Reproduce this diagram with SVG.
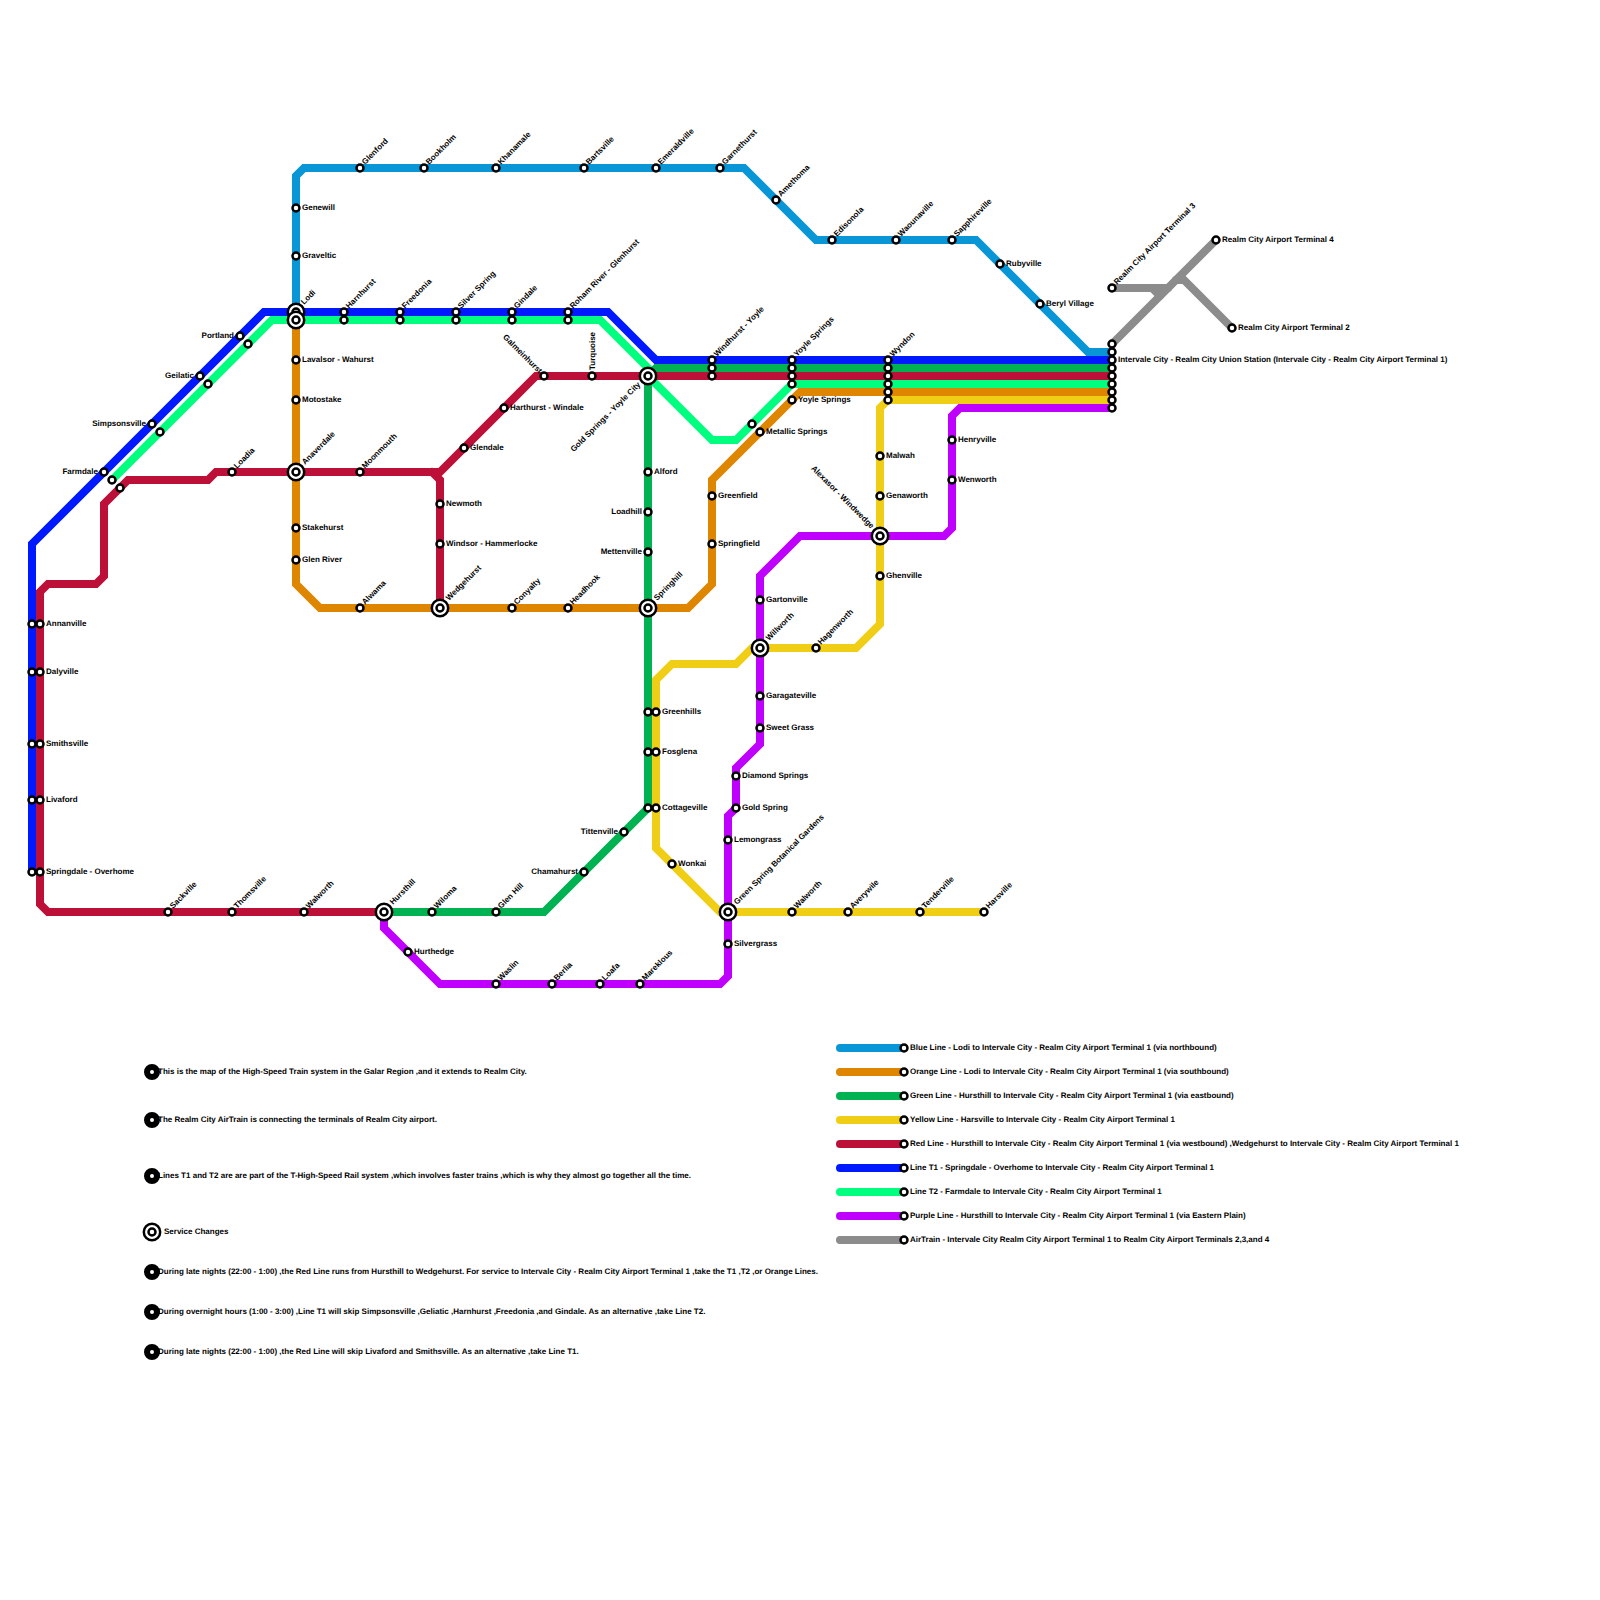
<svg xmlns="http://www.w3.org/2000/svg" xmlns:xlink="http://www.w3.org/1999/xlink" width="1600" height="1600" viewBox="0 0 1600 1600">
<style>
text{font-family:"Liberation Sans",Arial,sans-serif;font-weight:700;font-size:8px;fill:#000;text-rendering:geometricPrecision}
.e{text-anchor:end}
.ln{fill:none;stroke-width:8;stroke-linecap:round;stroke-linejoin:miter}
.blue{stroke:#0896d7}.orange{stroke:#df8600}.green{stroke:#00b251}.yellow{stroke:#f0ce15}.red{stroke:#bd1038}.t1{stroke:#0019ff}.t2{stroke:#00ff7f}.purple{stroke:#bf00ff}.air{stroke:#8c8c8c}
.s{fill:#fff;stroke:#000;stroke-width:2.5}
.bullet{fill:#fff;stroke:#000;stroke-width:6}
</style>
<defs>
<circle id="s" class="s" r="3.5"/>
<g id="x"><circle class="s" r="8.2"/><circle class="s" r="3.5"/></g>
</defs>
<rect width="1600" height="1600" fill="#fff"/>
<g id="connectors">
<path class="ln blue" d="M296 312V176L304 168H744L816 240H976L1088 352H1112"/>
<path class="ln orange" d="M296 320V584L320 608H688L712 584V480L800 392H1112"/>
<path class="ln green" d="M384 912H544L648 808V376L656 368H1112"/>
<path class="ln yellow" d="M984 912H720L656 848V680L672 664H736L752 648H856L880 624V408L888 400H1112"/>
<path class="ln t2" d="M112 480L272 320H600L648 368V376L712 440H736L792 384H1112"/>
<path class="ln red" d="M384 912H48L40 904V592L48 584H96L104 576V504L128 480H208L216 472H440L536 376H1112"/>
<path class="ln red" d="M440 608V480L432 472"/>
<path class="ln t1" d="M32 872V544L264 312H608L656 360H1112"/>
<path class="ln purple" d="M384 912V928L440 984H720L728 976V816L736 808V768L760 744V576L800 536H944L952 528V416L960 408H1112"/>
<path class="ln air" d="M1112 344L1216 240"/>
<path class="ln air" d="M1112 288H1168"/>
<path class="ln air" d="M1112 288H1152L1160 296"/>
<path class="ln air" d="M1176 280H1184L1232 328"/>
</g>
<g id="legend-lines">
<path class="ln blue" d="M840 1048H904"/>
<path class="ln orange" d="M840 1072H904"/>
<path class="ln green" d="M840 1096H904"/>
<path class="ln yellow" d="M840 1120H904"/>
<path class="ln red" d="M840 1144H904"/>
<path class="ln t1" d="M840 1168H904"/>
<path class="ln t2" d="M840 1192H904"/>
<path class="ln purple" d="M840 1216H904"/>
<path class="ln air" d="M840 1240H904"/>
</g>
<g id="n-genewill" transform="translate(296 208)"><use href="#s"/><text x="6" y="2">Genewill</text></g>
<g id="n-graveltic" transform="translate(296 256)"><use href="#s"/><text x="6" y="2">Graveltic</text></g>
<g id="n-lodi" transform="translate(296 312)"><use href="#x"/><text transform="translate(8 -7) rotate(-45)">Lodi</text></g>
<g id="n-lodi-2" transform="translate(296 320)"><use href="#x"/></g>
<g id="n-glenford" transform="translate(360 168)"><use href="#s"/><text transform="translate(5 -3) rotate(-45)">Glenford</text></g>
<g id="n-bookholm" transform="translate(424 168)"><use href="#s"/><text transform="translate(5 -3) rotate(-45)">Bookholm</text></g>
<g id="n-khanamale" transform="translate(496 168)"><use href="#s"/><text transform="translate(5 -3) rotate(-45)">Khanamale</text></g>
<g id="n-bartsville" transform="translate(584 168)"><use href="#s"/><text transform="translate(5 -3) rotate(-45)">Bartsville</text></g>
<g id="n-emeraldville" transform="translate(656 168)"><use href="#s"/><text transform="translate(5 -3) rotate(-45)">Emeraldville</text></g>
<g id="n-garnethurst" transform="translate(720 168)"><use href="#s"/><text transform="translate(5 -3) rotate(-45)">Garnethurst</text></g>
<g id="n-amethoma" transform="translate(776 200)"><use href="#s"/><text transform="translate(5 -3) rotate(-45)">Amethoma</text></g>
<g id="n-edisonola" transform="translate(832 240)"><use href="#s"/><text transform="translate(5 -3) rotate(-45)">Edisonola</text></g>
<g id="n-waounaville" transform="translate(896 240)"><use href="#s"/><text transform="translate(5 -3) rotate(-45)">Waounaville</text></g>
<g id="n-sapphireville" transform="translate(952 240)"><use href="#s"/><text transform="translate(5 -3) rotate(-45)">Sapphireville</text></g>
<g id="n-rubyville" transform="translate(1000 264)"><use href="#s"/><text x="6" y="2">Rubyville</text></g>
<g id="n-beryl-village" transform="translate(1040 304)"><use href="#s"/><text x="6" y="2">Beryl Village</text></g>
<g id="n-intervale-city"><use href="#s" x="1112" y="344"/><use href="#s" x="1112" y="352"/><use href="#s" x="1112" y="360"/><use href="#s" x="1112" y="368"/><use href="#s" x="1112" y="376"/><use href="#s" x="1112" y="384"/><use href="#s" x="1112" y="392"/><use href="#s" x="1112" y="400"/><use href="#s" x="1112" y="408"/><text x="1118" y="362">Intervale City - Realm City Union Station (Intervale City - Realm City Airport Terminal 1)</text></g>
<g id="n-terminal-3" transform="translate(1112 288)"><use href="#s"/><text transform="translate(5 -3) rotate(-45)">Realm City Airport Terminal 3</text></g>
<g id="n-terminal-4" transform="translate(1216 240)"><use href="#s"/><text x="6" y="2">Realm City Airport Terminal 4</text></g>
<g id="n-terminal-2" transform="translate(1232 328)"><use href="#s"/><text x="6" y="2">Realm City Airport Terminal 2</text></g>
<g id="n-harnhurst"><use href="#s" x="344" y="312"/><use href="#s" x="344" y="320"/><text transform="translate(349 309) rotate(-45)">Harnhurst</text></g>
<g id="n-freedonia"><use href="#s" x="400" y="312"/><use href="#s" x="400" y="320"/><text transform="translate(405 309) rotate(-45)">Freedonia</text></g>
<g id="n-silver-spring"><use href="#s" x="456" y="312"/><use href="#s" x="456" y="320"/><text transform="translate(461 309) rotate(-45)">Silver Spring</text></g>
<g id="n-gindale"><use href="#s" x="512" y="312"/><use href="#s" x="512" y="320"/><text transform="translate(517 309) rotate(-45)">Gindale</text></g>
<g id="n-roham-river"><use href="#s" x="568" y="312"/><use href="#s" x="568" y="320"/><text transform="translate(573 309) rotate(-45)">Roham River - Glenhurst</text></g>
<g id="n-portland"><use href="#s" x="240" y="336"/><use href="#s" x="248" y="344"/><text class="e" x="234" y="338">Portland</text></g>
<g id="n-geilatic"><use href="#s" x="200" y="376"/><use href="#s" x="208" y="384"/><text class="e" x="194" y="378">Geilatic</text></g>
<g id="n-simpsonsville"><use href="#s" x="152" y="424"/><use href="#s" x="160" y="432"/><text class="e" x="146" y="426">Simpsonsville</text></g>
<g id="n-farmdale"><use href="#s" x="104" y="472"/><use href="#s" x="112" y="480"/><text class="e" x="98" y="474">Farmdale</text></g>
<g id="n-red-488" transform="translate(120 488)"><use href="#s"/></g>
<g id="n-annanville"><use href="#s" x="32" y="624"/><use href="#s" x="40" y="624"/><text x="46" y="626">Annanville</text></g>
<g id="n-dalyville"><use href="#s" x="32" y="672"/><use href="#s" x="40" y="672"/><text x="46" y="674">Dalyville</text></g>
<g id="n-smithsville"><use href="#s" x="32" y="744"/><use href="#s" x="40" y="744"/><text x="46" y="746">Smithsville</text></g>
<g id="n-livaford"><use href="#s" x="32" y="800"/><use href="#s" x="40" y="800"/><text x="46" y="802">Livaford</text></g>
<g id="n-springdale"><use href="#s" x="32" y="872"/><use href="#s" x="40" y="872"/><text x="46" y="874">Springdale - Overhome</text></g>
<g id="n-lavalsor" transform="translate(296 360)"><use href="#s"/><text x="6" y="2">Lavalsor - Wahurst</text></g>
<g id="n-motostake" transform="translate(296 400)"><use href="#s"/><text x="6" y="2">Motostake</text></g>
<g id="n-anaverdale" transform="translate(296 472)"><use href="#x"/><text transform="translate(9 -7) rotate(-45)">Anaverdale</text></g>
<g id="n-stakehurst" transform="translate(296 528)"><use href="#s"/><text x="6" y="2">Stakehurst</text></g>
<g id="n-glen-river" transform="translate(296 560)"><use href="#s"/><text x="6" y="2">Glen River</text></g>
<g id="n-alwama" transform="translate(360 608)"><use href="#s"/><text transform="translate(5 -3) rotate(-45)">Alwama</text></g>
<g id="n-wedgehurst" transform="translate(440 608)"><use href="#x"/><text transform="translate(9 -7) rotate(-45)">Wedgehurst</text></g>
<g id="n-conyalty" transform="translate(512 608)"><use href="#s"/><text transform="translate(5 -3) rotate(-45)">Conyalty</text></g>
<g id="n-headhook" transform="translate(568 608)"><use href="#s"/><text transform="translate(5 -3) rotate(-45)">Headhook</text></g>
<g id="n-springhill" transform="translate(648 608)"><use href="#x"/><text transform="translate(9 -7) rotate(-45)">Springhill</text></g>
<g id="n-greenfield" transform="translate(712 496)"><use href="#s"/><text x="6" y="2">Greenfield</text></g>
<g id="n-springfield" transform="translate(712 544)"><use href="#s"/><text x="6" y="2">Springfield</text></g>
<g id="n-metallic-springs"><use href="#s" x="752" y="424"/><use href="#s" x="760" y="432"/><text x="766" y="434">Metallic Springs</text></g>
<g id="n-loadia" transform="translate(232 472)"><use href="#s"/><text transform="translate(5 -3) rotate(-45)">Loadia</text></g>
<g id="n-moonmouth" transform="translate(360 472)"><use href="#s"/><text transform="translate(5 -3) rotate(-45)">Moonmouth</text></g>
<g id="n-newmoth" transform="translate(440 504)"><use href="#s"/><text x="6" y="2">Newmoth</text></g>
<g id="n-windsor" transform="translate(440 544)"><use href="#s"/><text x="6" y="2">Windsor - Hammerlocke</text></g>
<g id="n-glendale" transform="translate(464 448)"><use href="#s"/><text x="6" y="2">Glendale</text></g>
<g id="n-harthurst" transform="translate(504 408)"><use href="#s"/><text x="6" y="2">Harthurst - Windale</text></g>
<g id="n-galmeinhurst" transform="translate(544 376)"><use href="#s"/><text class="e" transform="translate(-5 -2) rotate(45)">Galmeinhurst</text></g>
<g id="n-turquoise" transform="translate(592 376)"><use href="#s"/><text transform="translate(3 -6) rotate(-90)">Turquoise</text></g>
<g id="n-gold-springs" transform="translate(648 376)"><use href="#x"/><text class="e" transform="translate(-7 9) rotate(-45)">Gold Springs - Yoyle City</text></g>
<g id="n-windhurst"><use href="#s" x="712" y="360"/><use href="#s" x="712" y="368"/><use href="#s" x="712" y="376"/><text transform="translate(717 357) rotate(-45)">Windhurst - Yoyle</text></g>
<g id="n-yoyle-springs"><use href="#s" x="792" y="360"/><use href="#s" x="792" y="368"/><use href="#s" x="792" y="376"/><use href="#s" x="792" y="384"/><use href="#s" x="792" y="400"/><text transform="translate(797 357) rotate(-45)">Yoyle Springs</text><text x="798" y="402">Yoyle Springs</text></g>
<g id="n-wyndon"><use href="#s" x="888" y="360"/><use href="#s" x="888" y="368"/><use href="#s" x="888" y="376"/><use href="#s" x="888" y="384"/><use href="#s" x="888" y="392"/><use href="#s" x="888" y="400"/><text transform="translate(893 357) rotate(-45)">Wyndon</text></g>
<g id="n-sackville" transform="translate(168 912)"><use href="#s"/><text transform="translate(5 -3) rotate(-45)">Sackville</text></g>
<g id="n-thomsville" transform="translate(232 912)"><use href="#s"/><text transform="translate(5 -3) rotate(-45)">Thomsville</text></g>
<g id="n-walworth-w" transform="translate(304 912)"><use href="#s"/><text transform="translate(5 -3) rotate(-45)">Walworth</text></g>
<g id="n-hursthill" transform="translate(384 912)"><use href="#x"/><text transform="translate(9 -7) rotate(-45)">Hursthill</text></g>
<g id="n-wiloma" transform="translate(432 912)"><use href="#s"/><text transform="translate(5 -3) rotate(-45)">Wiloma</text></g>
<g id="n-glen-hill" transform="translate(496 912)"><use href="#s"/><text transform="translate(5 -3) rotate(-45)">Glen Hill</text></g>
<g id="n-chamahurst" transform="translate(584 872)"><use href="#s"/><text class="e" x="-6" y="2">Chamahurst</text></g>
<g id="n-tittenville" transform="translate(624 832)"><use href="#s"/><text class="e" x="-6" y="2">Tittenville</text></g>
<g id="n-cottageville"><use href="#s" x="648" y="808"/><use href="#s" x="656" y="808"/><text x="662" y="810">Cottageville</text></g>
<g id="n-fosglena"><use href="#s" x="648" y="752"/><use href="#s" x="656" y="752"/><text x="662" y="754">Fosglena</text></g>
<g id="n-greenhills"><use href="#s" x="648" y="712"/><use href="#s" x="656" y="712"/><text x="662" y="714">Greenhills</text></g>
<g id="n-mettenville" transform="translate(648 552)"><use href="#s"/><text class="e" x="-6" y="2">Mettenville</text></g>
<g id="n-loadhill" transform="translate(648 512)"><use href="#s"/><text class="e" x="-6" y="2">Loadhill</text></g>
<g id="n-alford" transform="translate(648 472)"><use href="#s"/><text x="6" y="2">Alford</text></g>
<g id="n-wonkai" transform="translate(672 864)"><use href="#s"/><text x="6" y="2">Wonkai</text></g>
<g id="n-green-spring" transform="translate(728 912)"><use href="#x"/><text transform="translate(9 -7) rotate(-45)">Green Spring Botanical Gardens</text></g>
<g id="n-walworth-e" transform="translate(792 912)"><use href="#s"/><text transform="translate(5 -3) rotate(-45)">Walworth</text></g>
<g id="n-averywile" transform="translate(848 912)"><use href="#s"/><text transform="translate(5 -3) rotate(-45)">Averywile</text></g>
<g id="n-tenderville" transform="translate(920 912)"><use href="#s"/><text transform="translate(5 -3) rotate(-45)">Tenderville</text></g>
<g id="n-harsville" transform="translate(984 912)"><use href="#s"/><text transform="translate(5 -3) rotate(-45)">Harsville</text></g>
<g id="n-willworth" transform="translate(760 648)"><use href="#x"/><text transform="translate(9 -7) rotate(-45)">Willworth</text></g>
<g id="n-hagenworth" transform="translate(816 648)"><use href="#s"/><text transform="translate(5 -3) rotate(-45)">Hagenworth</text></g>
<g id="n-ghenville" transform="translate(880 576)"><use href="#s"/><text x="6" y="2">Ghenville</text></g>
<g id="n-alexasor" transform="translate(880 536)"><use href="#x"/><text class="e" transform="translate(-9 -7) rotate(45)">Alexasor - Windwedge</text></g>
<g id="n-genaworth" transform="translate(880 496)"><use href="#s"/><text x="6" y="2">Genaworth</text></g>
<g id="n-malwah" transform="translate(880 456)"><use href="#s"/><text x="6" y="2">Malwah</text></g>
<g id="n-hurthedge" transform="translate(408 952)"><use href="#s"/><text x="6" y="2">Hurthedge</text></g>
<g id="n-waslin" transform="translate(496 984)"><use href="#s"/><text transform="translate(5 -3) rotate(-45)">Waslin</text></g>
<g id="n-berlia" transform="translate(552 984)"><use href="#s"/><text transform="translate(5 -3) rotate(-45)">Berlia</text></g>
<g id="n-loafa" transform="translate(600 984)"><use href="#s"/><text transform="translate(5 -3) rotate(-45)">Loafa</text></g>
<g id="n-mareklous" transform="translate(640 984)"><use href="#s"/><text transform="translate(5 -3) rotate(-45)">Mareklous</text></g>
<g id="n-silvergrass" transform="translate(728 944)"><use href="#s"/><text x="6" y="2">Silvergrass</text></g>
<g id="n-lemongrass" transform="translate(728 840)"><use href="#s"/><text x="6" y="2">Lemongrass</text></g>
<g id="n-gold-spring" transform="translate(736 808)"><use href="#s"/><text x="6" y="2">Gold Spring</text></g>
<g id="n-diamond-springs" transform="translate(736 776)"><use href="#s"/><text x="6" y="2">Diamond Springs</text></g>
<g id="n-sweet-grass" transform="translate(760 728)"><use href="#s"/><text x="6" y="2">Sweet Grass</text></g>
<g id="n-garagateville" transform="translate(760 696)"><use href="#s"/><text x="6" y="2">Garagateville</text></g>
<g id="n-gartonville" transform="translate(760 600)"><use href="#s"/><text x="6" y="2">Gartonville</text></g>
<g id="n-henryville" transform="translate(952 440)"><use href="#s"/><text x="6" y="2">Henryville</text></g>
<g id="n-wenworth" transform="translate(952 480)"><use href="#s"/><text x="6" y="2">Wenworth</text></g>
<g id="legend-stations">
<g id="k-blue" transform="translate(904 1048)"><use href="#s"/><text x="6" y="2">Blue Line - Lodi to Intervale City - Realm City Airport Terminal 1 (via northbound)</text></g>
<g id="k-orange" transform="translate(904 1072)"><use href="#s"/><text x="6" y="2">Orange Line - Lodi to Intervale City - Realm City Airport Terminal 1 (via southbound)</text></g>
<g id="k-green" transform="translate(904 1096)"><use href="#s"/><text x="6" y="2">Green Line - Hursthill to Intervale City - Realm City Airport Terminal 1 (via eastbound)</text></g>
<g id="k-yellow" transform="translate(904 1120)"><use href="#s"/><text x="6" y="2">Yellow Line - Harsville to Intervale City - Realm City Airport Terminal 1</text></g>
<g id="k-red" transform="translate(904 1144)"><use href="#s"/><text x="6" y="2">Red Line - Hursthill to Intervale City - Realm City Airport Terminal 1 (via westbound) ,Wedgehurst to Intervale City - Realm City Airport Terminal 1</text></g>
<g id="k-t1" transform="translate(904 1168)"><use href="#s"/><text x="6" y="2">Line T1 - Springdale - Overhome to Intervale City - Realm City Airport Terminal 1</text></g>
<g id="k-t2" transform="translate(904 1192)"><use href="#s"/><text x="6" y="2">Line T2 - Farmdale to Intervale City - Realm City Airport Terminal 1</text></g>
<g id="k-purple" transform="translate(904 1216)"><use href="#s"/><text x="6" y="2">Purple Line - Hursthill to Intervale City - Realm City Airport Terminal 1 (via Eastern Plain)</text></g>
<g id="k-air" transform="translate(904 1240)"><use href="#s"/><text x="6" y="2">AirTrain - Intervale City Realm City Airport Terminal 1 to Realm City Airport Terminals 2,3,and 4</text></g>
</g>
<g id="notes">
<g id="note-1" transform="translate(152 1072)"><circle class="bullet" r="5"/><text x="6" y="2">This is the map of the High-Speed Train system in the Galar Region ,and it extends to Realm City.</text></g>
<g id="note-2" transform="translate(152 1120)"><circle class="bullet" r="5"/><text x="6" y="2">The Realm City AirTrain is connecting the terminals of Realm City airport.</text></g>
<g id="note-3" transform="translate(152 1176)"><circle class="bullet" r="5"/><text x="6" y="2">Lines T1 and T2 are are part of the T-High-Speed Rail system ,which involves faster trains ,which is why they almost go together all the time.</text></g>
<g id="note-4" transform="translate(152 1232)"><use href="#x"/><text x="12" y="2">Service Changes</text></g>
<g id="note-5" transform="translate(152 1272)"><circle class="bullet" r="5"/><text x="6" y="2">During late nights (22:00 - 1:00) ,the Red Line runs from Hursthill to Wedgehurst. For service to Intervale City - Realm City Airport Terminal 1 ,take the T1 ,T2 ,or Orange Lines.</text></g>
<g id="note-6" transform="translate(152 1312)"><circle class="bullet" r="5"/><text x="6" y="2">During overnight hours (1:00 - 3:00) ,Line T1 will skip Simpsonsville ,Geliatic ,Harnhurst ,Freedonia ,and Gindale. As an alternative ,take Line T2.</text></g>
<g id="note-7" transform="translate(152 1352)"><circle class="bullet" r="5"/><text x="6" y="2">During late nights (22:00 - 1:00) ,the Red Line will skip Livaford and Smithsville. As an alternative ,take Line T1.</text></g>
</g>
</svg>
